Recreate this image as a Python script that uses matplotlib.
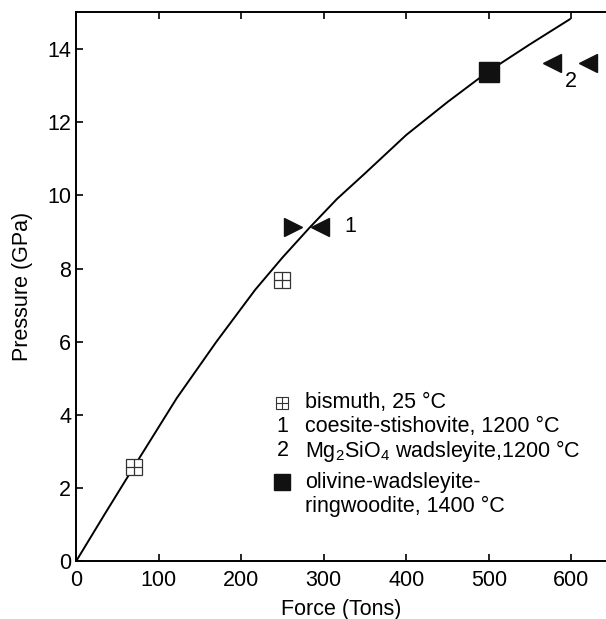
import matplotlib
matplotlib.use("Agg")
import matplotlib.pyplot as plt

plt.rcParams['font.family'] = ['Liberation Sans', 'DejaVu Sans']
plt.rcParams['mathtext.fontset'] = 'custom'
plt.rcParams['mathtext.rm'] = 'Liberation Sans'
plt.rcParams['mathtext.it'] = 'Liberation Sans:italic'

# calibration curve
curve_force = [0, 35, 70, 122, 170, 217, 250, 283, 316, 350, 400, 450, 499, 550, 598]
curve_pressure = [0, 1.3, 2.58, 4.46, 6.0, 7.42, 8.3, 9.12, 9.9, 10.6, 11.65, 12.55, 13.38, 14.13, 14.81]

bismuth_force = [70, 250]
bismuth_pressure = [2.57, 7.7]
coe_right_force = [263]
coe_left_force = [296]
coe_pressure = [9.15]
wad_force = [576, 620]
wad_pressure = [13.61, 13.61]
olivine_force = [500]
olivine_pressure = [13.38]

legend_labels = ['bismuth, 25 °C', 'coesite-stishovite, 1200 °C',
                 'Mg$_2$SiO$_4$ wadsleyite,1200 °C',
                 'olivine-wadsleyite-', 'ringwoodite, 1400 °C']

fs = 15.5

fig = plt.figure(figsize=(6.06, 6.19), dpi=100)
ax = fig.add_axes([0.1254, 0.093, 0.8746, 0.887])

ax.plot(curve_force, curve_pressure, color='black', lw=1.4, zorder=2)

ax.plot(bismuth_force, bismuth_pressure, 's', ms=12, mfc='white', mec='#333333', mew=0.9, ls='none', zorder=3)
ax.plot(bismuth_force, bismuth_pressure, '+', ms=12, mec='#333333', mew=0.9, ls='none', zorder=4)
ax.plot(coe_right_force, coe_pressure, '>', ms=13, color='#111111', ls='none', zorder=3)
ax.plot(coe_left_force, coe_pressure, '<', ms=13, color='#111111', ls='none', zorder=3)
ax.plot(wad_force, wad_pressure, '<', ms=13, color='#111111', ls='none', zorder=3)
ax.plot(olivine_force, olivine_pressure, 's', ms=14, color='#111111', ls='none', zorder=3)

ax.text(325, 9.15, '1', fontsize=fs, va='center', ha='left')
ax.text(600, 13.1, '2', fontsize=fs, va='center', ha='center')

# hand-made legend block
sym_x = 250
txt_x = 278
ax.plot([sym_x], [4.33], 's', ms=9, mfc='white', mec='#333333', mew=0.8)
ax.plot([sym_x], [4.33], '+', ms=9, mec='#333333', mew=0.8)
ax.text(txt_x, 4.33, legend_labels[0], fontsize=fs, va='center')
ax.text(sym_x, 3.68, '1', fontsize=fs, va='center', ha='center')
ax.text(txt_x, 3.68, legend_labels[1], fontsize=fs, va='center')
ax.text(sym_x, 3.02, '2', fontsize=fs, va='center', ha='center')
ax.text(txt_x, 3.02, legend_labels[2], fontsize=fs, va='center')
ax.plot([sym_x], [2.17], 's', ms=11, color='#111111')
ax.text(txt_x, 2.17, legend_labels[3], fontsize=fs, va='center')
ax.text(txt_x, 1.5, legend_labels[4], fontsize=fs, va='center')

ax.set_xlim(0, 642)
ax.set_ylim(0, 15)
ax.set_xticks([0, 100, 200, 300, 400, 500, 600])
ax.set_yticks([0, 2, 4, 6, 8, 10, 12, 14])
ax.tick_params(direction='in', length=5, width=1.2, labelsize=fs, top=True, right=False)
ax.tick_params(axis='x', pad=6)
ax.spines['right'].set_visible(False)
for s in ['left', 'bottom', 'top']:
    ax.spines[s].set_linewidth(1.4)
ax.set_xlabel('Force (Tons)', fontsize=fs, labelpad=6)
ax.set_ylabel('Pressure (GPa)', fontsize=fs, labelpad=10)

fig.savefig('out.png', dpi=100)
